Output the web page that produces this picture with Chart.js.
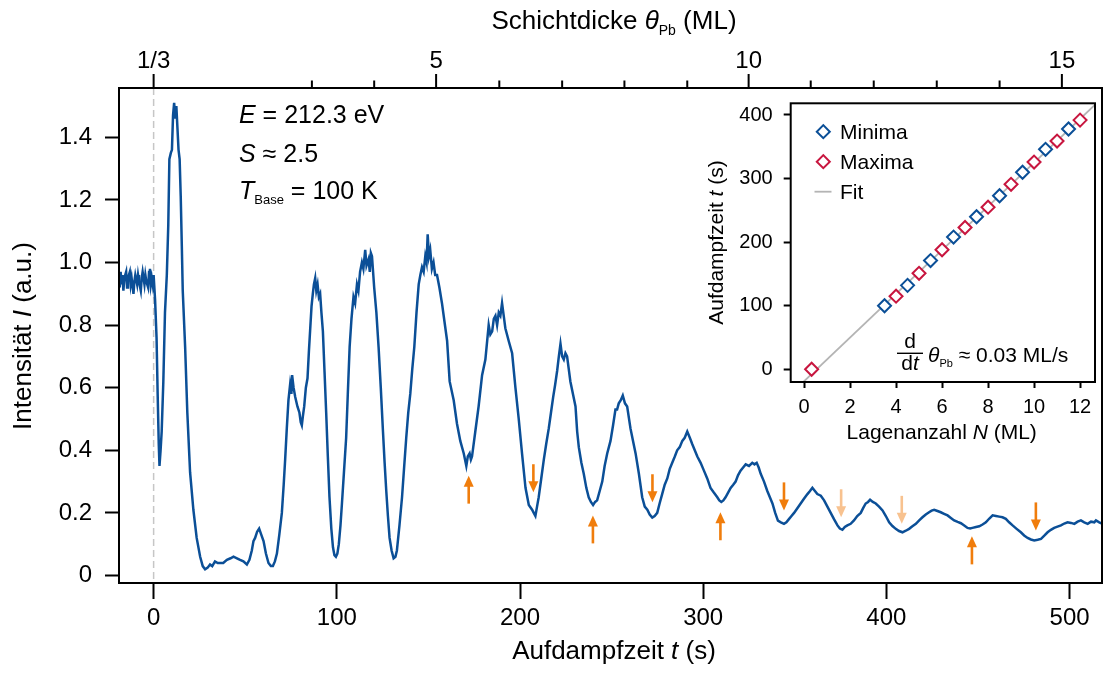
<!DOCTYPE html>
<html lang="de">
<head>
<meta charset="UTF-8" />
<title>Schichtdicke Pb – Intensitätsoszillationen</title>
<script src="https://cdn.jsdelivr.net/npm/chart.js@4.4.1/dist/chart.umd.min.js"></script>
<style>
  html, body { margin: 0; padding: 0; background: #fff; }
  #wrap { position: relative; width: 1105px; height: 673px; overflow: hidden; }
  #mainChart { position: absolute; left: 0; top: 0; }
  #insetChart { position: absolute; left: 690px; top: 75px; }
</style>
</head>
<body>
<div id="wrap">
  <canvas id="mainChart" width="1105" height="673"></canvas>
  <canvas id="insetChart" width="415" height="375"></canvas>
</div>
<script>
// intensity trace, [time (s), intensity (a.u.)]
const rheedTrace = [
  [-19,0.95],[-18.5,0.92],[-18,0.97],[-17.5,0.93],[-17,0.96],[-16.5,0.91],[-16,0.95],[-15,0.97],[-14.5,0.92],[-14,0.95],
  [-13,0.97],[-12.5,0.93],[-12,0.95],[-11,0.90],[-10.5,0.94],[-10,0.96],[-9,0.93],[-8.5,0.96],[-8,0.94],[-7,0.91],
  [-6.5,0.95],[-6,0.97],[-5,0.93],[-4.5,0.96],[-4,0.94],[-3,0.92],[-2.5,0.97],[-2,0.98],[-1.5,0.93],[-1,0.95],[-0.5,0.93],[0,0.96],
  [0.8,0.88],[1.6,0.76],[2.2,0.58],[2.8,0.42],[3.2,0.35],[3.8,0.40],[4.4,0.46],[5.3,0.62],[6.2,0.84],[7.2,0.96],
  [8,1.12],[8.6,1.33],[9.4,1.35],[10,1.36],[10.6,1.47],[11.2,1.51],[11.8,1.46],[12.4,1.50],[13,1.43],[13.6,1.36],
  [14.2,1.33],[14.8,1.21],[15.4,1.05],[15.9,0.91],[17.2,0.73],[18.4,0.52],[19.9,0.33],[21.7,0.21],[23.5,0.12],[25.4,0.06],
  [26.8,0.03],[28.1,0.02],[29.5,0.025],[30.8,0.035],[32,0.03],[33.5,0.045],[35,0.04],[36.5,0.04],[38,0.04],[40,0.05],
  [42,0.055],[43.6,0.06],[45.5,0.055],[47.2,0.05],[49,0.045],[50.9,0.035],[52.3,0.05],[53.6,0.08],[54.5,0.11],[55.4,0.12],
  [56.5,0.14],[57.6,0.15],[58.8,0.13],[60,0.11],[61.3,0.07],[62.7,0.04],[64,0.03],[65.1,0.03],[66.2,0.045],[67.3,0.07],
  [68.6,0.13],[70,0.20],[71,0.29],[71.8,0.37],[72.7,0.47],[73.6,0.56],[74.5,0.61],[75.2,0.58],[75.6,0.64],[76.4,0.60],
  [77.3,0.57],[78.5,0.54],[79.6,0.52],[80.3,0.49],[80.9,0.48],[81.5,0.51],[82.2,0.54],[83.1,0.60],[84,0.63],[84.8,0.72],
  [85.5,0.79],[86.2,0.86],[86.9,0.90],[87.5,0.93],[88.2,0.95],[88.8,0.91],[89.5,0.93],[90.2,0.89],[90.9,0.90],[91.6,0.84],
  [92.4,0.78],[93.3,0.65],[94.2,0.52],[95.1,0.38],[96,0.25],[97,0.15],[97.9,0.09],[98.7,0.065],[99.5,0.06],[100.3,0.07],
  [101.1,0.10],[102,0.16],[102.8,0.23],[103.9,0.33],[105.1,0.44],[106,0.58],[107,0.73],[108,0.82],[109.1,0.89],[110,0.87],
  [111,0.93],[111.8,0.91],[112.7,0.97],[113.7,1.00],[114.5,0.98],[115.5,1.04],[116.2,0.99],[117.3,1.01],[118,0.97],[118.6,1.03],
  [119.2,1.02],[120.4,0.92],[121.6,0.84],[122.8,0.73],[124,0.60],[125.2,0.46],[126.1,0.36],[127,0.27],[127.9,0.19],[128.8,0.12],
  [129.9,0.08],[131,0.055],[132,0.06],[132.8,0.08],[134.2,0.16],[135.6,0.25],[136.8,0.35],[137.9,0.44],[139,0.52],[140.1,0.58],
  [141.2,0.66],[142.3,0.73],[143.5,0.84],[144.7,0.93],[145.6,0.96],[146.5,0.985],[147.4,0.97],[148.3,1.02],[149,1.00],[149.6,1.09],
  [150.3,1.02],[151,1.04],[151.9,0.98],[152.8,1.00],[153.7,0.96],[154.7,0.96],[156,0.92],[157.4,0.87],[158.8,0.81],[160.2,0.75],
  [161.6,0.62],[163.8,0.56],[165.6,0.485],[167.4,0.43],[169.3,0.39],[170.7,0.35],[171.5,0.38],[172.5,0.39],[173.2,0.37],[173.8,0.38],
  [175.6,0.46],[177.4,0.54],[179.3,0.64],[181.1,0.69],[182.9,0.80],[183.8,0.77],[184.8,0.78],[185.7,0.82],[186.6,0.83],[187.5,0.80],
  [188.4,0.84],[189.3,0.83],[190.2,0.87],[191.1,0.83],[192,0.79],[193.8,0.75],[195.7,0.71],[197.5,0.60],[199.3,0.50],[201.1,0.39],
  [203,0.28],[204.8,0.225],[206.6,0.21],[207.5,0.20],[208.4,0.19],[209.3,0.22],[210.2,0.25],[211.6,0.31],[213,0.37],[214.3,0.42],
  [215.7,0.47],[216.9,0.52],[218.1,0.57],[219.2,0.61],[220.3,0.655],[221.2,0.70],[222.1,0.74],[223,0.70],[223.9,0.69],[224.8,0.71],
  [225.7,0.70],[226.6,0.66],[227.5,0.62],[228.9,0.58],[230.3,0.54],[231.2,0.46],[232.1,0.41],[233.5,0.36],[234.8,0.325],[236.2,0.28],
  [237.5,0.25],[238.7,0.235],[239.9,0.225],[241,0.235],[242.1,0.24],[243.5,0.27],[244.9,0.30],[246.2,0.35],[247.6,0.39],[249.4,0.43],
  [250.8,0.48],[252.1,0.53],[253,0.53],[253.9,0.55],[255,0.56],[256.1,0.575],[257.3,0.55],[258.5,0.54],[260.3,0.47],[261.7,0.43],
  [263.1,0.39],[264.9,0.325],[266.7,0.25],[268.1,0.22],[269.5,0.21],[270.8,0.195],[272.2,0.185],[273.5,0.19],[274.9,0.20],[276.2,0.23],
  [277.6,0.26],[279,0.29],[280.4,0.31],[281.7,0.34],[283.1,0.36],[284.5,0.38],[285.8,0.40],[287.2,0.41],[288.6,0.43],[289.9,0.44],
  [291.3,0.46],[292.7,0.44],[294,0.42],[295.4,0.40],[296.8,0.38],[298.6,0.36],[300.4,0.335],[302.2,0.31],[304,0.28],[305.8,0.265],
  [307.7,0.25],[308.8,0.24],[309.9,0.235],[311,0.24],[312.2,0.25],[313.6,0.265],[315,0.28],[316.4,0.29],[317.7,0.30],[319,0.32],
  [320.4,0.335],[321.8,0.345],[323.2,0.355],[325,0.35],[326.8,0.36],[328,0.355],[329.2,0.36],[330.3,0.345],[331.4,0.325],[333.2,0.30],
  [335,0.27],[336.4,0.25],[337.8,0.23],[339.3,0.20],[340.8,0.175],[342.4,0.17],[344.1,0.165],[345.4,0.17],[346.8,0.18],[348.2,0.19],
  [349.6,0.20],[351.4,0.215],[353.2,0.23],[355,0.245],[356.9,0.26],[358.3,0.27],[359.6,0.28],[361,0.27],[362.3,0.26],[364.2,0.255],
  [366,0.24],[367.8,0.22],[369.6,0.20],[371.4,0.18],[373.3,0.16],[374.6,0.15],[376,0.146],[377.3,0.155],[378.7,0.16],[380.5,0.165],
  [382.3,0.176],[384.1,0.19],[386,0.20],[387.3,0.215],[388.7,0.23],[390,0.235],[391.1,0.242],[392.6,0.235],[394.2,0.23],[396,0.22],
  [397.9,0.208],[399.7,0.19],[401.5,0.17],[403.3,0.158],[405.1,0.149],[406.9,0.142],[408.8,0.138],[410.6,0.143],[412.4,0.149],[414.2,0.157],
  [416.1,0.165],[417.9,0.176],[419.7,0.186],[421.5,0.195],[423.3,0.202],[424.7,0.207],[426.1,0.21],[427.9,0.206],[429.7,0.202],[431.5,0.197],
  [433.4,0.192],[435.2,0.184],[437,0.176],[438.9,0.171],[440.7,0.167],[442.5,0.16],[444.3,0.152],[445.7,0.15],[447,0.152],[448.9,0.155],
  [450.7,0.157],[452.5,0.163],[454.3,0.17],[456.2,0.182],[458,0.192],[459.8,0.19],[461.6,0.188],[463.4,0.186],[465.2,0.181],[467,0.17],
  [468.9,0.16],[471.1,0.149],[473.4,0.138],[475.2,0.128],[477.1,0.12],[478.9,0.115],[480.7,0.112],[482.6,0.114],[484.4,0.117],[486.2,0.127],
  [488,0.138],[489.8,0.146],[491.6,0.152],[493.4,0.156],[495.3,0.16],[497.1,0.166],[498.9,0.17],[500.8,0.168],[502.6,0.165],[504.4,0.172],
  [506.2,0.176],[508,0.17],[509.9,0.165],[511.7,0.172],[513.5,0.17],[514.4,0.176],[516.2,0.17],[518,0.165]
];

// orange arrows (time, intensity at the arrow tip, direction, faint or not)
const arrowTime  = [172, 207.3, 239.8, 272.3, 309.4, 344.1, 375.3, 408.4, 446.7, 481.6];
const arrowTip   = [0.319, 0.266, 0.192, 0.234, 0.202, 0.208, 0.186, 0.165, 0.125, 0.144];
const arrowDir   = ['up', 'down', 'up', 'down', 'up', 'down', 'down', 'down', 'up', 'down'];
const arrowFaint = [false, false, false, false, false, false, true, true, false, false];

// top axis: layer thickness (ML), tick positions in seconds on the time axis
const thetaTickTime  = [0, 86.4, 120.4, 154.2, 188.7, 223, 257, 291.3, 324.8, 358.7, 393.1, 427.5, 461.8, 495.8];
const thetaTickLabel = ['1/3', '', '', '5', '', '', '', '', '10', '', '', '', '', '15'];

// inset: time of minima / maxima vs. layer number
const minimaN = [3.5, 4.5, 5.5, 6.5, 7.5, 8.5, 9.5, 10.5, 11.5];
const minimaT = [100, 132, 171, 208, 240, 273, 310, 346, 378];
const maximaN = [0.33, 4, 5, 6, 7, 8, 9, 10, 11, 12];
const maximaT = [0, 115, 151, 188, 223, 255, 291, 326, 359, 392];
const fitN = [-0.6, 12.7];
const fitT = [-39.5, 418];

const FONT = '"Liberation Sans", Arial, Helvetica, sans-serif';
const BLUE = '#0b4f97';
const RED = '#c8163f';
const ORANGE = '#f07d0c';
const ORANGE_FAINT = '#f8c28f';

// draw text made of pieces: [text, style] with style '', 'i' (italic) or 'sub'
function drawRich(ctx, parts, x, y, size, align) {
  let total = 0;
  const info = parts.map(([txt, st]) => {
    const f = (st === 'i' ? 'italic ' : '') + (st === 'sub' ? Math.round(size * 0.52) : size) + 'px ' + FONT;
    ctx.font = f;
    const w = ctx.measureText(txt).width;
    total += w;
    return [f, w];
  });
  let cx = align === 'center' ? x - total / 2 : (align === 'right' ? x - total : x);
  ctx.textAlign = 'left';
  ctx.textBaseline = 'alphabetic';
  parts.forEach(([txt, st], i) => {
    ctx.font = info[i][0];
    ctx.fillText(txt, cx, y + (st === 'sub' ? size * 0.22 : 0));
    cx += info[i][1];
  });
}

function drawArrow(ctx, x, tipY, dir, color) {
  const len = 28, head = 11, hw = 5;
  const s = dir === 'up' ? 1 : -1;
  ctx.strokeStyle = color;
  ctx.fillStyle = color;
  ctx.lineWidth = 2.6;
  ctx.beginPath();
  ctx.moveTo(x, tipY + s * head * 0.8);
  ctx.lineTo(x, tipY + s * len);
  ctx.stroke();
  ctx.beginPath();
  ctx.moveTo(x, tipY);
  ctx.lineTo(x - hw, tipY + s * head);
  ctx.lineTo(x + hw, tipY + s * head);
  ctx.closePath();
  ctx.fill();
}

const mainDecor = {
  id: 'mainDecor',
  beforeDatasetsDraw(chart) {
    const { ctx, chartArea: a, scales: { x } } = chart;
    const px = x.getPixelForValue(0);
    ctx.save();
    ctx.strokeStyle = '#c6c6c6';
    ctx.lineWidth = 1.5;
    ctx.setLineDash([7, 4]);
    ctx.beginPath();
    ctx.moveTo(px, a.top);
    ctx.lineTo(px, a.bottom);
    ctx.stroke();
    ctx.restore();
  },
  afterDraw(chart) {
    const { ctx, chartArea: a, scales: { x, y, xTop } } = chart;
    ctx.save();
    // frame
    ctx.strokeStyle = '#000';
    ctx.lineWidth = 2;
    ctx.strokeRect(a.left, a.top, a.right - a.left, a.bottom - a.top);
    // top ticks
    thetaTickTime.forEach((t, i) => {
      const px = xTop.getPixelForValue(t);
      const len = thetaTickLabel[i] ? 14 : 7.5;
      ctx.beginPath();
      ctx.moveTo(px, a.top);
      ctx.lineTo(px, a.top - len);
      ctx.stroke();
    });
    // arrows
    arrowTime.forEach((t, i) => {
      drawArrow(ctx, x.getPixelForValue(t), y.getPixelForValue(arrowTip[i]), arrowDir[i],
        arrowFaint[i] ? ORANGE_FAINT : ORANGE);
    });
    // titles and notes
    ctx.fillStyle = '#000';
    drawRich(ctx, [['Aufdampfzeit ', ''], ['t', 'i'], [' (s)', '']], 614, 659, 26, 'center');
    drawRich(ctx, [['Schichtdicke ', ''], ['θ', 'i'], ['Pb', 'sub'], [' (ML)', '']], 614, 29, 26, 'center');
    ctx.save();
    ctx.translate(31, 336);
    ctx.rotate(-Math.PI / 2);
    drawRich(ctx, [['Intensität ', ''], ['I', 'i'], [' (a.u.)', '']], 0, 0, 26, 'center');
    ctx.restore();
    drawRich(ctx, [['E', 'i'], [' = 212.3 eV', '']], 239, 123, 25, 'left');
    drawRich(ctx, [['S', 'i'], [' ≈ 2.5', '']], 239, 161.5, 25, 'left');
    drawRich(ctx, [['T', 'i'], ['Base', 'sub'], [' = 100 K', '']], 239, 198.5, 25, 'left');
    ctx.restore();
  }
};

const tickFont = { family: FONT, size: 24 };
const axisGrid = { drawOnChartArea: false, drawTicks: true, tickWidth: 2, tickColor: '#000' };

new Chart(document.getElementById('mainChart'), {
  type: 'line',
  data: {
    datasets: [{
      data: rheedTrace.map(([t, v]) => ({ x: t, y: v })),
      borderColor: BLUE,
      borderWidth: 2.5,
      pointRadius: 0,
      tension: 0
    }]
  },
  options: {
    responsive: false,
    animation: false,
    layout: { padding: { left: 0, right: 3, top: 0, bottom: 0 } },
    plugins: { legend: { display: false }, tooltip: { enabled: false } },
    scales: {
      x: {
        type: 'linear', position: 'bottom', min: -18.9, max: 517.7,
        afterFit: s => { s.height = 90; },
        border: { display: false },
        grid: { ...axisGrid, tickLength: 16 },
        ticks: { stepSize: 100, includeBounds: false, color: '#000', font: tickFont, padding: 5, maxRotation: 0 }
      },
      xTop: {
        type: 'linear', position: 'top', min: -18.9, max: 517.7,
        afterFit: s => { s.height = 88; },
        afterBuildTicks: s => { s.ticks = thetaTickTime.map(v => ({ value: v })); },
        border: { display: false },
        grid: { display: false, drawTicks: false },
        ticks: { autoSkip: false, color: '#000', font: tickFont, padding: 12, maxRotation: 0,
                 callback: (v, i) => thetaTickLabel[i] }
      },
      y: {
        min: -0.024, max: 1.5575,
        afterFit: s => { s.width = 119; },
        border: { display: false },
        grid: { ...axisGrid, tickLength: 14 },
        ticks: { stepSize: 0.2, includeBounds: false, color: '#000', font: tickFont, padding: 13,
                 callback: v => (Math.abs(v) < 1e-9 ? '0' : v.toFixed(1)) }
      }
    }
  },
  plugins: [mainDecor]
});

// ----- inset -----
const INSET_X = 690, INSET_Y = 75;

const insetDecor = {
  id: 'insetDecor',
  afterDraw(chart) {
    const { ctx, chartArea: a } = chart;
    ctx.save();
    ctx.strokeStyle = '#000';
    ctx.lineWidth = 2;
    ctx.strokeRect(a.left, a.top, a.right - a.left, a.bottom - a.top);
    ctx.translate(-INSET_X, -INSET_Y);
    ctx.fillStyle = '#000';
    // legend
    const rows = [['Minima', BLUE, 131.7], ['Maxima', RED, 161.7]];
    rows.forEach(([name, col, yy]) => {
      ctx.save();
      ctx.translate(823.3, yy);
      ctx.rotate(Math.PI / 4);
      ctx.fillStyle = '#fff';
      ctx.strokeStyle = col;
      ctx.lineWidth = 2;
      ctx.fillRect(-4.6, -4.6, 9.2, 9.2);
      ctx.strokeRect(-4.6, -4.6, 9.2, 9.2);
      ctx.restore();
      drawRich(ctx, [[name, '']], 840, yy + 7.5, 21, 'left');
    });
    ctx.strokeStyle = '#b4b4b4';
    ctx.lineWidth = 1.8;
    ctx.beginPath();
    ctx.moveTo(814.5, 191.7);
    ctx.lineTo(831.5, 191.7);
    ctx.stroke();
    drawRich(ctx, [['Fit', '']], 840, 199.2, 21, 'left');
    // rate formula
    drawRich(ctx, [['d', '']], 910, 348, 21, 'center');
    ctx.strokeStyle = '#000';
    ctx.lineWidth = 1.4;
    ctx.beginPath();
    ctx.moveTo(897, 353.3);
    ctx.lineTo(923, 353.3);
    ctx.stroke();
    drawRich(ctx, [['d', ''], ['t', 'i']], 910, 370, 21, 'center');
    drawRich(ctx, [['θ', 'i'], ['Pb', 'sub'], [' ≈ 0.03 ML/s', '']], 928, 362, 21, 'left');
    // axis titles
    drawRich(ctx, [['Lagenanzahl ', ''], ['N', 'i'], [' (ML)', '']], 941.7, 439, 21, 'center');
    ctx.save();
    ctx.translate(723, 242.5);
    ctx.rotate(-Math.PI / 2);
    drawRich(ctx, [['Aufdampfzeit ', ''], ['t', 'i'], [' (s)', '']], 0, 0, 21, 'center');
    ctx.restore();
    ctx.restore();
  }
};

const insetTickFont = { family: FONT, size: 20 };

new Chart(document.getElementById('insetChart'), {
  type: 'scatter',
  data: {
    datasets: [
      {
        label: 'Minima',
        data: minimaN.map((n, i) => ({ x: n, y: minimaT[i] })),
        pointStyle: 'rectRot', pointRadius: 6.5, borderWidth: 2,
        borderColor: BLUE, backgroundColor: '#fff', order: 1
      },
      {
        label: 'Maxima',
        data: maximaN.map((n, i) => ({ x: n, y: maximaT[i] })),
        pointStyle: 'rectRot', pointRadius: 6.5, borderWidth: 2,
        borderColor: RED, backgroundColor: '#fff', order: 2
      },
      {
        label: 'Fit',
        data: fitN.map((n, i) => ({ x: n, y: fitT[i] })),
        showLine: true, pointRadius: 0, borderColor: '#b4b4b4', borderWidth: 1.8, order: 5
      }
    ]
  },
  options: {
    responsive: false,
    animation: false,
    layout: { padding: { left: 0, right: 10, top: 28.3, bottom: 0 } },
    plugins: { legend: { display: false }, tooltip: { enabled: false } },
    scales: {
      x: {
        min: -0.58, max: 12.65,
        afterFit: s => { s.height = 68; },
        border: { display: false },
        grid: { ...axisGrid, tickLength: 6 },
        ticks: { stepSize: 2, includeBounds: false, color: '#000', font: insetTickFont, padding: 7, maxRotation: 0 }
      },
      y: {
        min: -20, max: 418.4,
        afterFit: s => { s.width = 100.7; },
        border: { display: false },
        grid: { ...axisGrid, tickLength: 7 },
        ticks: { stepSize: 100, includeBounds: false, color: '#000', font: insetTickFont, padding: 11 }
      }
    }
  },
  plugins: [insetDecor]
});
</script>
</body>
</html>
